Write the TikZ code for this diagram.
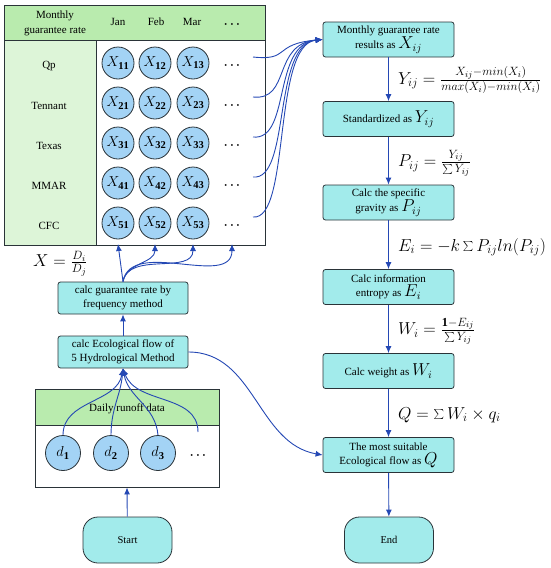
\documentclass[tikz,border=0pt]{standalone}
\usepackage{fontspec}
\setmainfont{Liberation Serif}
\usetikzlibrary{arrows.meta,calc}
\definecolor{boxcyan}{HTML}{A2EBEB}
\definecolor{circblue}{HTML}{A3D3F5}
\definecolor{hdrgreen}{HTML}{B9EBAE}
\definecolor{colgreen}{HTML}{DDF5D8}
\definecolor{arrowblue}{HTML}{2448B4}
\definecolor{edge}{HTML}{2A3338}
\newcommand{\bm}[1]{\fontsize{16}{16}\selectfont$#1$}
\begin{document}
\begin{tikzpicture}[x=1pt,y=-1pt,
  procbox/.style={draw=edge, fill=boxcyan, rounded corners=2.5pt, line width=0.8pt,
    minimum width=131pt, minimum height=35pt, align=center, inner sep=1pt,
    font=\fontsize{11}{14}\selectfont},
  termbox/.style={draw=edge, fill=boxcyan, rounded corners=15pt, line width=0.8pt,
    minimum width=89pt, minimum height=46pt, font=\fontsize{10.5}{12}\selectfont},
  circ/.style={circle, draw=edge, fill=circblue, minimum size=32pt, inner sep=0pt,
    line width=0.8pt, font=\fontsize{15}{15}\selectfont},
  lbl/.style={font=\fontsize{11}{15}\selectfont, align=center, inner sep=0pt},
  dotsn/.style={inner sep=0pt, font=\fontsize{13}{13}\selectfont\boldmath},
  frm/.style={anchor=west, inner sep=0pt, font=\fontsize{17.5}{19}\selectfont},
  arr/.style={draw=arrowblue, line width=0.9pt, -{Latex[length=7pt,width=6pt]}}
]
\useasboundingbox (0,0) rectangle (550,568);

% ---------- monthly table ----------
\fill[hdrgreen] (4,5) rectangle (265,40);
\fill[colgreen] (4,40) rectangle (96,245);
\draw[edge, line width=0.9pt] (4,5) rectangle (265,245);
\draw[edge, line width=0.9pt] (4,40) -- (265,40);
\draw[edge, line width=0.9pt] (96,40) -- (96,245);

\node[lbl] (hdr) at (55,23) {Monthly\\guarantee rate};
\node[lbl] (jan) at (118,22) {Jan};
\node[lbl] (feb) at (156,22) {Feb};
\node[lbl] (mar) at (192,22) {Mar};
\node[dotsn] (hdots) at (232,25) {$\cdots$};

\foreach \r/\name/\y in {1/Qp/63,2/Tennant/103,3/Texas/143,4/MMAR/183,5/CFC/223}{
  \node[lbl] (row\r) at (49,\y+3) {\name};
  \node[circ] (c\r1) at (118,\y) {$X_{\mathbf{\r1}}$};
  \node[circ] (c\r2) at (155,\y) {$X_{\mathbf{\r2}}$};
  \node[circ] (c\r3) at (193,\y) {$X_{\mathbf{\r3}}$};
  \node[dotsn] (dots\r) at (232,\y+3) {$\cdots$};
  \coordinate (r\r) at (253,\y-6);
}

% ---------- left flow ----------
\node[frm, font=\fontsize{18.5}{20}\selectfont] (xfrac) at (33,264) {$X=\frac{D_i}{D_j}$};
\node[procbox, minimum width=130pt, minimum height=32pt] (gb) at (123,298) {calc guarantee rate by\\frequency method};
\node[procbox, minimum width=130pt, minimum height=32pt] (eco) at (123,352) {calc Ecological flow of\\5 Hydrological Method};

\fill[hdrgreen] (35,389) rectangle (219,425);
\node[draw=edge, line width=0.9pt, minimum width=184pt, minimum height=98pt, inner sep=0pt] (daily) at (127,438) {};
\draw[edge, line width=0.9pt] (35,425) -- (219,425);
\node[lbl] (dlabel) at (127,409) {Daily runoff data};
\node[circ, minimum size=35pt] (d1) at (63,453) {$d_{\mathbf{1}}$};
\node[circ, minimum size=35pt] (d2) at (111,453) {$d_{\mathbf{2}}$};
\node[circ, minimum size=35pt] (d3) at (158,453) {$d_{\mathbf{3}}$};
\node[dotsn] (ddots) at (198,456) {$\cdots$};
\coordinate (dd) at (198,432);

\node[termbox] (start) at (127.5,540) {Start};

% ---------- right flow ----------
\node[procbox] (m1) at (388.5,39.5) {Monthly guarantee rate\\results as \bm{X_{ij}}};
\node[procbox] (m2) at (388.5,119) {Standardized as \bm{Y_{ij}}};
\node[procbox] (m3) at (388.5,202.5) {Calc the specific\\gravity as \bm{P_{ij}}};
\node[procbox] (m4) at (388.5,287) {Calc information\\entropy as \bm{E_{i}}};
\node[procbox] (m5) at (388.5,371) {Calc weight as \bm{W_{i}}};
\node[procbox] (m6) at (388.5,455) {The most suitable\\Ecological flow as \bm{Q}};
\node[termbox] (endn) at (389,540) {End};

\node[frm] (fy) at (398,80) {$Y_{ij}=\frac{X_{ij}-min(X_i)}{max(X_i)-min(X_i)}$};
\node[frm] (fp) at (398,163) {$P_{ij}=\frac{Y_{ij}}{\sum Y_{ij}}$};
\node[frm] (fe) at (398,247) {$E_i=-k\sum P_{ij}ln(P_{ij})$};
\node[frm] (fw) at (398,331) {$W_i=\frac{\mathbf{1}-E_{ij}}{\sum Y_{ij}}$};
\node[frm] (fq) at (398,415) {$Q=\sum W_i\times q_i$};

% ---------- connectors ----------
\draw[arr] (m1) -- (m2);
\draw[arr] (m2) -- (m3);
\draw[arr] (m3) -- (m4);
\draw[arr] (m4) -- (m5);
\draw[arr] (m5) -- (m6);
\draw[arr] (m6) -- (endn);

\foreach \r in {1,...,5}{
  \draw[arr] (r\r) .. controls ($(r\r)+(38,4)$) and (272,44) .. (m1.west);
}

\draw[arr] (start) -- (daily.south);
\draw[arr] (eco.north) -- (gb.south);

\coordinate (a1) at (118,244);
\coordinate (a2) at (155,244);
\coordinate (a3) at (193,244);
\coordinate (a4) at (232,244);
\draw[arr] (gb.north) -- (a1);
\draw[arr] (gb.north) to[out=80,in=-90] (a2);
\draw[arr] (gb.north) to[out=80,in=-90] (a3);
\draw[arr] (gb.north) to[out=80,in=-90] (a4);

\draw[arr] (d1.north) to[out=90,in=-100] (eco.south);
\draw[arr] (d2.north) to[out=90,in=-95] (eco.south);
\draw[arr] (d3.north) to[out=95,in=-80] (eco.south);
\draw[arr] (dd) to[out=90,in=-70] (eco.south);

\draw[arr] (eco.east) to[out=0,in=170] (m6.west);
\end{tikzpicture}
\end{document}
